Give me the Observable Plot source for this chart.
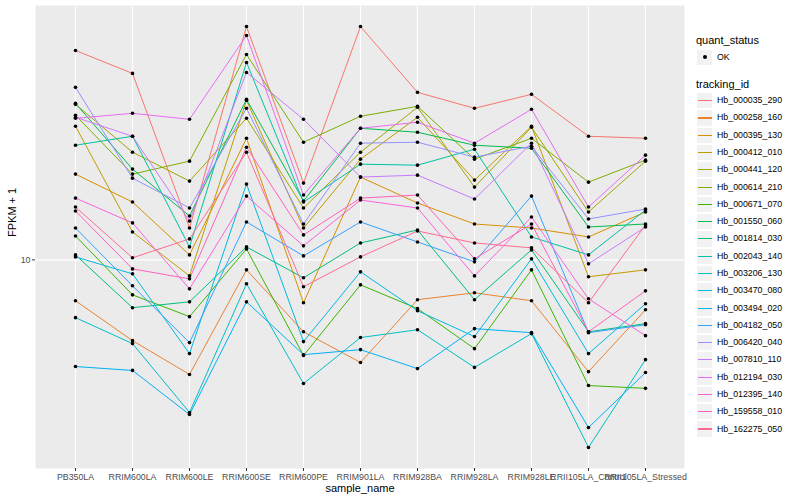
<!DOCTYPE html>
<html>
<head>
<meta charset="utf-8">
<script src="https://cdn.jsdelivr.net/npm/d3@7"></script>
<script src="https://cdn.jsdelivr.net/npm/@observablehq/plot@0.6"></script>
<style>
  body { margin: 0; background: white; font-family: "Liberation Sans", Arial, sans-serif; }
  #wrap { position: relative; width: 800px; height: 500px; overflow: hidden; }
  #legend div { position: absolute; white-space: nowrap; }
</style>
</head>
<body>
<div id="wrap">
  <div id="chart"></div>
  <div id="legend"></div>
</div>
<script>
const samples = ["PB350LA","RRIM600LA","RRIM600LE","RRIM600SE","RRIM600PE","RRIM901LA","RRIM928BA","RRIM928LA","RRIM928LE","RRII105LA_Control","RRII105LA_Stressed"];

const trackingIds = ["Hb_000035_290","Hb_000258_160","Hb_000395_130","Hb_000412_010","Hb_000441_120","Hb_000614_210","Hb_000671_070","Hb_001550_060","Hb_001814_030","Hb_002043_140","Hb_003206_130","Hb_003470_080","Hb_003494_020","Hb_004182_050","Hb_006420_040","Hb_007810_110","Hb_012194_030","Hb_012395_140","Hb_159558_010","Hb_162275_050"];

const colors = ["#F8766D","#EA8331","#D89000","#C09B00","#A3A500","#7CAE00","#39B600","#00BB4E","#00BF7D","#00C1A3","#00BFC4","#00BAE0","#00B0F6","#35A2FF","#9590FF","#C77CFF","#E76BF3","#FA62DB","#FF62BC","#FF6C91"];

// FPKM + 1 per sample, one array per tracking_id
const hb000035_290 = [50.12, 42.01, 12.78, 60.26, 18.06, 60.26, 36.31, 32.11, 35.76, 25.90, 25.50];
const hb000258_160 = [7.30, 5.37, 4.14, 9.26, 5.75, 4.54, 7.36, 7.76, 7.30, 4.23, 6.81];
const hb000395_130 = [19.35, 15.61, 10.39, 25.50, 7.19, 18.91, 15.49, 13.18, 12.78, 11.93, 14.46];
const hb000412_010 = [27.97, 12.40, 8.84, 34.14, 12.78, 21.71, 29.97, 18.48, 27.97, 8.78, 9.26];
const hb000441_120 = [33.11, 22.91, 18.34, 29.74, 14.91, 22.91, 32.36, 17.51, 27.75, 14.46, 21.38];
const hb000614_210 = [30.43, 19.35, 21.38, 48.61, 24.74, 30.20, 32.61, 21.71, 25.50, 18.19, 21.55];
const hb000671_070 = [12.02, 7.64, 6.46, 10.88, 4.79, 8.25, 6.87, 5.05, 9.26, 3.80, 3.72];
const hb001550_060 = [33.37, 20.11, 14.02, 34.41, 15.73, 27.54, 26.71, 24.17, 23.62, 12.88, 13.18];
const hb001814_030 = [10.39, 6.92, 7.24, 11.05, 8.71, 11.39, 12.59, 7.36, 10.80, 5.75, 6.12];
const hb002043_140 = [24.17, 25.90, 11.05, 45.71, 15.61, 20.89, 20.73, 23.44, 11.93, 10.39, 14.68];
const hb003206_130 = [6.41, 5.25, 3.09, 8.32, 3.86, 5.50, 5.84, 4.37, 5.67, 2.36, 4.64];
const hb003470_080 = [10.23, 8.98, 4.86, 17.92, 5.33, 9.12, 6.76, 5.54, 10.08, 4.86, 7.13];
const hb003494_020 = [4.40, 4.27, 3.04, 7.24, 4.82, 5.01, 4.33, 5.89, 5.71, 2.75, 4.20];
const hb004182_050 = [12.78, 8.19, 5.29, 13.39, 10.31, 13.39, 11.48, 9.85, 16.34, 5.71, 6.07];
const hb006420_040 = [37.73, 18.76, 14.91, 32.11, 13.18, 24.55, 24.74, 22.05, 23.99, 13.70, 14.79];
const hb007810_110 = [29.97, 25.90, 13.49, 42.33, 29.51, 18.91, 19.20, 15.97, 24.55, 9.70, 12.88];
const hb012194_030 = [29.74, 30.90, 29.51, 56.24, 16.47, 27.54, 28.84, 24.55, 31.87, 15.02, 22.39];
const hb012395_140 = [16.09, 13.29, 8.00, 16.34, 11.14, 15.85, 14.91, 8.84, 13.91, 7.41, 5.58];
const hb159558_010 = [14.57, 9.33, 8.64, 23.81, 12.12, 16.09, 16.47, 10.08, 13.18, 5.75, 7.88];
const hb162275_050 = [15.02, 10.16, 11.75, 22.91, 8.13, 10.23, 12.49, 11.39, 10.97, 7.19, 13.08];

const seriesValues = [hb000035_290, hb000258_160, hb000395_130, hb000412_010, hb000441_120, hb000614_210, hb000671_070, hb001550_060, hb001814_030, hb002043_140, hb003206_130, hb003470_080, hb003494_020, hb004182_050, hb006420_040, hb007810_110, hb012194_030, hb012395_140, hb159558_010, hb162275_050];

const yTicks = [10];

const data = [];
trackingIds.forEach((id, i) => {
  samples.forEach((s, j) => data.push({id, sample: s, value: seriesValues[i][j], status: "OK"}));
});

// ggplot-like 5% expansion on log scale
const ext = d3.extent(data, d => Math.log10(d.value));
const pad = (ext[1] - ext[0]) * 0.05;
const yDomain = [Math.pow(10, ext[0] - pad), Math.pow(10, ext[1] + pad)];

const chart = Plot.plot({
  width: 800,
  height: 500,
  marginLeft: 35,
  marginRight: 116,
  marginTop: 5,
  marginBottom: 32,
  style: {fontFamily: "'Liberation Sans', Arial, sans-serif", fontSize: "8.8px", background: "white", color: "#4D4D4D"},
  x: {type: "point", domain: samples, padding: 0.6, label: null},
  y: {type: "log", domain: yDomain, label: null},
  color: {domain: trackingIds, range: colors},
  marks: [
    Plot.frame({fill: "#EBEBEB"}),
    Plot.gridX({stroke: "white", strokeOpacity: 1, strokeWidth: 1.1}),
    Plot.gridY({ticks: yTicks, stroke: "white", strokeOpacity: 1, strokeWidth: 1.1}),
    Plot.axisX({tickSize: 3, tickPadding: 2, stroke: "#333333", fill: "#4D4D4D", label: null, fontSize: 8.8}),
    Plot.axisY({ticks: yTicks, tickSize: 3, tickPadding: 2, stroke: "#333333", fill: "#4D4D4D", label: null, tickFormat: d => String(d), fontSize: 8.8}),
    Plot.lineY(data, {x: "sample", y: "value", z: "id", stroke: "id", strokeWidth: 1}),
    Plot.dot(data, {x: "sample", y: "value", r: 1.8, fill: "black", stroke: null}),
    Plot.text(["sample_name"], {text: d => d, frameAnchor: "bottom", dy: 23, fontSize: 11, fill: "black"}),
    Plot.text(["FPKM + 1"], {text: d => d, frameAnchor: "left", dx: -23, rotate: -90, fontSize: 11, fill: "black"})
  ]
});
document.getElementById("chart").appendChild(chart);

// Legend (HTML, positioned to the right of the panel)
const legend = document.getElementById("legend");
function el(style, html) {
  const d = document.createElement("div");
  Object.assign(d.style, style);
  if (html != null) d.textContent = html;
  legend.appendChild(d);
  return d;
}
const keyLeft = 696, keySize = 17.28, labelLeft = 717;
el({left: keyLeft + "px", top: "34px", fontSize: "11px", color: "black", lineHeight: "13px"}, "quant_status");
el({left: keyLeft + "px", top: (57.3 - keySize / 2) + "px", width: keySize + "px", height: keySize + "px", background: "#F2F2F2", boxSizing: "border-box", border: "1px solid white"});
el({left: (keyLeft + keySize / 2 - 2) + "px", top: "55.3px", width: "4px", height: "4px", borderRadius: "2px", background: "black"});
el({left: labelLeft + "px", top: "51.8px", fontSize: "8.8px", color: "black", lineHeight: "11px"}, "OK");
el({left: keyLeft + "px", top: "77.5px", fontSize: "11px", color: "black", lineHeight: "13px"}, "tracking_id");
trackingIds.forEach((id, i) => {
  const cy = 100.7 + i * keySize;
  el({left: keyLeft + "px", top: (cy - keySize / 2) + "px", width: keySize + "px", height: keySize + "px", background: "#F2F2F2", boxSizing: "border-box", border: "1px solid white"});
  el({left: (keyLeft + 1.7) + "px", top: (cy - 0.55) + "px", width: (keySize - 3.4) + "px", height: "1.1px", background: colors[i]});
  el({left: labelLeft + "px", top: (cy - 5.5) + "px", fontSize: "8.8px", color: "black", lineHeight: "11px"}, id);
});
</script>
</body>
</html>
